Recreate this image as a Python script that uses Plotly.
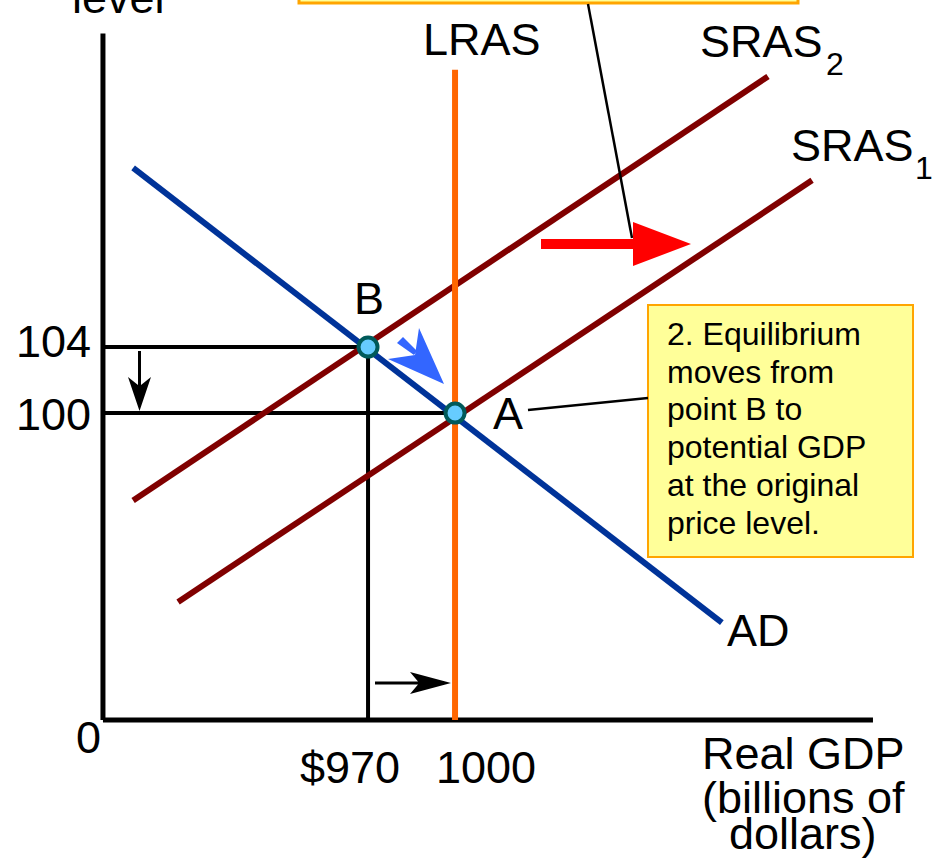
import plotly.graph_objects as go

W, H = 933, 864

# ---------------- data (economic units) ----------------
gdp_levels = [970, 1000]          # real GDP at B and A
price_levels = [104, 100]         # price level at B and A
point_names = ["B", "A"]
x_tick_labels = ["$970", "1000"]
y_tick_labels = ["104", "100"]

ad_x = [889.0, 1092.0]
ad_y = [114.85, 87.3]
sras1_x = [904.5, 1123.1]
sras1_y = [88.55, 114.1]
sras2_x = [889.0, 1107.9]
sras2_y = [94.7, 120.4]
lras_x = [1000, 1000]
lras_y = [81.4, 120.8]

axis_x0 = 878.6
axis_y0 = 81.4
axis_x_end = 1144.1
axis_y_end = 123.0

X_RANGE = [843.1, 1164.8]
Y_RANGE = [72.67, 125.03]

FONT = "Arial, 'Liberation Sans', sans-serif"
LBL = 45


def dx(px):
    return X_RANGE[0] + px / W * (X_RANGE[1] - X_RANGE[0])


def dy(py):
    return Y_RANGE[1] - py / H * (Y_RANGE[1] - Y_RANGE[0])


def poly(points):
    pts = [f"{dx(a):.4f},{dy(b):.4f}" for a, b in points]
    return "M" + " L".join(pts) + " Z"


fig = go.Figure()

# curves
fig.add_trace(go.Scatter(x=sras2_x, y=sras2_y, mode="lines",
                         line=dict(color="#800000", width=6), hoverinfo="skip"))
fig.add_trace(go.Scatter(x=sras1_x, y=sras1_y, mode="lines",
                         line=dict(color="#800000", width=6), hoverinfo="skip"))
fig.add_trace(go.Scatter(x=lras_x, y=lras_y, mode="lines",
                         line=dict(color="#ff6600", width=6), hoverinfo="skip"))
fig.add_trace(go.Scatter(x=ad_x, y=ad_y, mode="lines",
                         line=dict(color="#003399", width=6), hoverinfo="skip"))
# equilibrium points
fig.add_trace(go.Scatter(x=gdp_levels, y=price_levels, mode="markers",
                         marker=dict(size=19, color="#66ccff",
                                     line=dict(color="#005a5a", width=4)),
                         hoverinfo="skip"))

shapes = []
# axes
shapes.append(dict(type="line", x0=axis_x0, x1=axis_x0, y0=axis_y0, y1=axis_y_end,
                   line=dict(color="black", width=5), layer="below"))
shapes.append(dict(type="line", x0=axis_x0, x1=axis_x_end, y0=axis_y0, y1=axis_y0,
                   line=dict(color="black", width=5), layer="below"))
# guide lines
shapes.append(dict(type="line", x0=axis_x0, x1=gdp_levels[0], y0=price_levels[0], y1=price_levels[0],
                   line=dict(color="black", width=4), layer="below"))
shapes.append(dict(type="line", x0=axis_x0, x1=gdp_levels[1], y0=price_levels[1], y1=price_levels[1],
                   line=dict(color="black", width=4), layer="below"))
shapes.append(dict(type="line", x0=gdp_levels[0], x1=gdp_levels[0], y0=price_levels[0], y1=axis_y0,
                   line=dict(color="black", width=4), layer="below"))

# top (cut-off) yellow box and leader line
shapes.append(dict(type="rect", x0=dx(299), x1=dx(798), y0=dy(-30), y1=dy(3),
                   fillcolor="#ffff99", line=dict(color="#ffa500", width=3)))
shapes.append(dict(type="line", x0=dx(588), y0=dy(4), x1=dx(632), y1=dy(238),
                   line=dict(color="black", width=2.5)))
# box 2
shapes.append(dict(type="rect", x0=dx(648), x1=dx(913), y0=dy(305), y1=dy(557),
                   fillcolor="#ffff99", line=dict(color="#ffa500", width=2)))
shapes.append(dict(type="line", x0=dx(528), y0=dy(410), x1=dx(648), y1=dy(398),
                   line=dict(color="black", width=2.5)))

# red arrow
shapes.append(dict(type="path",
                   path=poly([(541, 239), (633, 239), (633, 222), (691, 244),
                              (633, 266), (633, 249), (541, 249)]),
                   fillcolor="#ff0000", line=dict(width=0)))
# blue chevron arrow
shapes.append(dict(type="path",
                   path=poly([(397, 343), (403, 337), (417, 351), (414, 355)]),
                   fillcolor="#3366ff", line=dict(width=0)))
shapes.append(dict(type="path",
                   path=poly([(444, 384), (419, 328), (415, 355), (388, 359)]),
                   fillcolor="#3366ff", line=dict(width=0)))
# black down arrow (price falls)
shapes.append(dict(type="path",
                   path=poly([(138, 351), (141, 351), (141, 385), (151, 377),
                              (139.5, 411), (128, 377), (138, 385)]),
                   fillcolor="black", line=dict(width=0)))
# black right arrow (GDP rises)
shapes.append(dict(type="path",
                   path=poly([(375, 681.5), (418, 681.5), (410, 672), (451, 683),
                              (410, 694), (418, 684.5), (375, 684.5)]),
                   fillcolor="black", line=dict(width=0)))

annotations = []


def txt(text, px, py, size=LBL, xanchor="center", yanchor="middle"):
    annotations.append(dict(text=text, x=px / W, y=1 - py / H, xref="paper", yref="paper",
                            showarrow=False, xanchor=xanchor, yanchor=yanchor,
                            font=dict(family=FONT, size=size, color="black")))


txt("level", 118, -2)
txt("LRAS", 482, 40)
txt("SRAS", 761, 41)
txt("2", 835, 64, size=32)
txt("SRAS", 852, 145)
txt("1", 924, 168, size=32)
txt("AD", 758, 630)
txt("0", 88, 737)
txt("Real GDP", 803, 753)
txt("(billions of", 803, 797)
txt("dollars)", 803, 833)

# point labels
label_offsets = [(1, -49), (53, 0)]
for name, gx, gy, (ox, oy) in zip(point_names, gdp_levels, price_levels, label_offsets):
    annotations.append(dict(text=name, x=gx, y=gy, xref="x", yref="y", showarrow=False,
                            xshift=ox, yshift=-oy,
                            font=dict(family=FONT, size=LBL, color="black")))
# tick labels
for lab, pv, sh in zip(y_tick_labels, price_levels, [6, -1]):
    annotations.append(dict(text=lab, x=93 / W, y=pv, xref="paper", yref="y", showarrow=False,
                            xanchor="right", yanchor="middle", yshift=sh,
                            font=dict(family=FONT, size=LBL, color="black")))
for lab, gv, sh in zip(x_tick_labels, gdp_levels, [-18, 31]):
    annotations.append(dict(text=lab, x=gv, y=1 - 767 / H, xref="x", yref="paper", showarrow=False,
                            xanchor="center", yanchor="middle", xshift=sh,
                            font=dict(family=FONT, size=LBL, color="black")))

box_lines = ["2. Equilibrium", "moves from", "point B to", "potential GDP",
             "at the original", "price level."]
for i, line in enumerate(box_lines):
    txt(line, 665, 334 + i * 37.7, size=32, xanchor="left")

fig.update_layout(
    width=W, height=H,
    margin=dict(l=0, r=0, t=0, b=0),
    paper_bgcolor="white", plot_bgcolor="white",
    showlegend=False,
    xaxis=dict(range=X_RANGE, visible=False, fixedrange=True),
    yaxis=dict(range=Y_RANGE, visible=False, fixedrange=True),
    shapes=shapes, annotations=annotations,
)

fig.write_html("out.html",
               config={"displayModeBar": False, "staticPlot": True},
               post_script="document.body.style.margin='0';document.body.style.overflow='hidden';")
